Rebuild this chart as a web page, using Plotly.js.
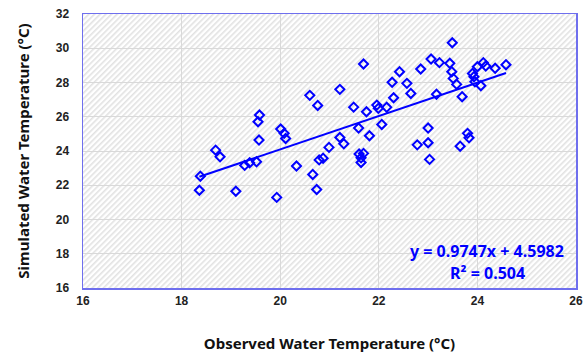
<!DOCTYPE html>
<html>
<head>
<meta charset="utf-8">
<script src="https://cdn.plot.ly/plotly-3.0.1.min.js"></script>
<style>
html,body{margin:0;padding:0;background:#fff;}
#chart{width:584px;height:360px;}
</style>
</head>
<body>
<div id="chart"></div>
<script>
// Observed (x) and simulated (y) water temperature, °C
const observed = [18.69,18.78,18.38,18.36,19.10,19.28,19.38,19.52,19.57,19.55,
  19.58,20.01,20.08,20.11,20.60,20.76,21.21,21.69,21.49,21.75,
  21.96,21.99,22.16,22.27,22.42,22.57,22.30,21.59,21.81,22.06,
  21.21,21.29,20.99,20.33,20.66,20.74,19.93,20.79,20.87,21.60,
  21.64,21.64,21.69,23.49,23.06,23.23,23.44,23.48,22.85,22.65,
  23.51,23.58,23.69,23.17,23.90,23.93,23.95,24.00,24.12,24.17,
  24.07,24.36,24.58,23.00,22.78,23.00,23.65,23.80,23.83,23.03];
const simulated = [24.05,23.66,22.53,21.71,21.65,23.16,23.31,23.37,24.64,25.71,
  26.10,25.28,25.03,24.73,27.25,26.66,27.60,29.08,26.56,26.29,
  26.68,26.49,26.55,28.01,28.63,27.95,27.11,25.34,24.89,25.55,
  24.79,24.42,24.21,23.12,22.63,21.75,21.29,23.48,23.58,23.82,
  23.60,23.33,23.86,30.32,29.37,29.16,29.12,28.63,28.79,27.36,
  28.24,27.89,27.17,27.31,28.53,28.34,28.04,28.92,29.16,28.96,
  27.81,28.83,29.04,25.34,24.36,24.48,24.28,25.03,24.77,23.51];
const slope = 0.9747;
const intercept = 4.5982;
const rSquared = 0.504;
const xTicks = [16,18,20,22,24,26];
const yTicks = [16,18,20,22,24,26,28,30,32];

const xMin = Math.min(...observed), xMax = Math.max(...observed);
const trendX = [xMin, xMax];
const trendY = trendX.map(v => slope * v + intercept);

const traces = [
  {x: observed, y: simulated, type: 'scatter', mode: 'markers',
   marker: {symbol: 'diamond-open', size: 7, color: '#0000ff', line: {width: 2, color: '#0000ff'}},
   showlegend: false, hoverinfo: 'x+y'},
  {x: trendX, y: trendY, type: 'scatter', mode: 'lines',
   line: {color: '#0000ff', width: 2}, showlegend: false}
];

const tickFont = {family: 'Liberation Sans, Arial, sans-serif', size: 12, color: '#222', weight: 'bold'};
const titleFont = {family: 'Noto Sans, sans-serif', size: 15, color: '#111', weight: 'bold'};
const annFont = {family: 'Noto Sans, sans-serif', size: 16, color: '#0000ff', weight: 'bold'};

const layout = {
  width: 584, height: 360,
  margin: {l: 83, r: 8, t: 14, b: 72},
  paper_bgcolor: '#ffffff',
  plot_bgcolor: '#f3f3f3',
  xaxis: {range: [16, 26], tickvals: xTicks, ticktext: xTicks.map(String),
    showgrid: true, gridcolor: '#d9d9d9', gridwidth: 1, zeroline: false,
    showline: true, mirror: true, linecolor: '#6f6fee', linewidth: 1.5,
    ticks: '', tickfont: tickFont, ticklabelstandoff: 1,
    title: {text: 'Observed Water Temperature (°C)', font: titleFont, standoff: 31}},
  yaxis: {range: [16, 32], tickvals: yTicks, ticktext: yTicks.map(String),
    showgrid: true, gridcolor: '#d9d9d9', gridwidth: 1, zeroline: false,
    showline: true, mirror: true, linecolor: '#6f6fee', linewidth: 1.5,
    ticks: '', tickfont: tickFont, ticklabelstandoff: 10,
    title: {text: 'Simulated Water Temperature (°C)', font: titleFont, standoff: 22}},
  annotations: [
    {x: 24.2, y: 18.15, xref: 'x', yref: 'y', showarrow: false, xanchor: 'center', yanchor: 'middle',
     text: 'y = ' + slope + 'x + ' + intercept, font: annFont},
    {x: 24.2, y: 16.9, xref: 'x', yref: 'y', showarrow: false, xanchor: 'center', yanchor: 'middle',
     text: 'R² = ' + rSquared, font: annFont}
  ]
};

Plotly.newPlot('chart', traces, layout, {displayModeBar: false, staticPlot: true}).then(function (gd) {
  // diagonal hatch fill for plot area background
  const svg = gd.querySelector('svg.main-svg');
  const ns = 'http://www.w3.org/2000/svg';
  let defs = svg.querySelector('defs');
  if (!defs) { defs = document.createElementNS(ns, 'defs'); svg.insertBefore(defs, svg.firstChild); }
  const pat = document.createElementNS(ns, 'pattern');
  pat.setAttribute('id', 'hatchbg');
  pat.setAttribute('patternUnits', 'userSpaceOnUse');
  pat.setAttribute('width', '4'); pat.setAttribute('height', '4');
  pat.setAttribute('patternTransform', 'rotate(45)');
  const r = document.createElementNS(ns, 'rect');
  r.setAttribute('width', '4'); r.setAttribute('height', '4'); r.setAttribute('fill', '#ffffff');
  const l = document.createElementNS(ns, 'rect');
  l.setAttribute('width', '1.6'); l.setAttribute('height', '4'); l.setAttribute('fill', '#e2e2e2');
  pat.appendChild(r); pat.appendChild(l);
  defs.appendChild(pat);
  const bg = svg.querySelector('rect.bg');
  if (bg) bg.style.fill = 'url(#hatchbg)';
});
</script>
</body>
</html>
